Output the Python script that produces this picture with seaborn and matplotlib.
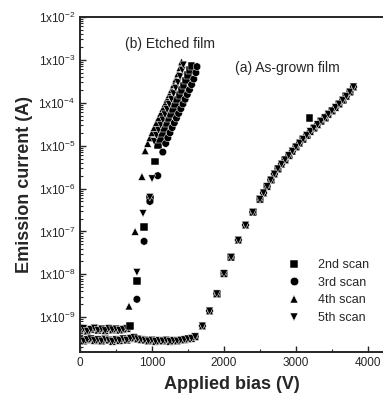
import matplotlib

matplotlib.use("Agg")
import matplotlib.pyplot as plt
import matplotlib.ticker as mticker
import numpy as np
import pandas as pd
import seaborn as sns

# ---- data (bias in V, current as log10 of A) ----
scans = ["2nd scan", "3rd scan", "4th scan", "5th scan"]
decades = [-9, -8, -7, -6, -5, -4, -3, -2]

# (a) as-grown film: the four scans lie on top of each other
grown_bias = [0, 50, 100, 150, 200, 250, 300, 350, 400, 450, 500, 550, 600, 650,
              700, 750, 800, 850, 900, 950, 1000, 1050, 1100, 1150, 1200, 1250,
              1300, 1350, 1400, 1450, 1500, 1550, 1600,
              1700, 1800, 1900, 2000, 2100, 2200, 2300, 2400, 2500,
              2550, 2600, 2650, 2700, 2750, 2800, 2850, 2900, 2950, 3000, 3050,
              3100, 3150, 3200, 3250, 3300, 3350, 3400, 3450, 3500, 3550, 3600,
              3650, 3700, 3750, 3800]
grown_log = [-9.50, -9.55, -9.52, -9.50, -9.54, -9.52, -9.55, -9.51, -9.53, -9.56,
             -9.52, -9.54, -9.50, -9.53, -9.49, -9.47, -9.50, -9.52, -9.53, -9.55,
             -9.53, -9.56, -9.54, -9.55, -9.53, -9.56, -9.54, -9.55, -9.53, -9.52,
             -9.50, -9.49, -9.45,
             -9.20, -8.85, -8.45, -7.98, -7.60, -7.20, -6.85, -6.55, -6.25,
             -6.10, -5.95, -5.80, -5.66, -5.54, -5.43, -5.33, -5.23, -5.13, -5.03,
             -4.94, -4.85, -4.76, -4.67, -4.59, -4.51, -4.43, -4.35, -4.27, -4.19,
             -4.11, -4.03, -3.94, -3.85, -3.75, -3.63]
grown_outlier_bias = [3190]          # lone 2nd-scan point above the curve
grown_outlier_log = [-4.35]

# (b) etched film: common low-bias floor, then one turn-on branch per scan
etched_floor_bias = [0, 50, 100, 150, 200, 250, 300, 350, 400, 450, 500, 550, 600, 650]
etched_floor_log = [-9.30, -9.26, -9.32, -9.28, -9.25, -9.30, -9.27, -9.31, -9.26,
                    -9.29, -9.27, -9.30, -9.28, -9.26]

etched2_bias = [690, 790, 890, 970, 1040, 1080, 1110, 1140, 1170, 1200, 1230, 1260,
                1290, 1320, 1350, 1380, 1410, 1440, 1470, 1500, 1530, 1550]
etched2_log = [-9.20, -8.16, -6.90, -6.25, -5.37, -5.00, -4.85, -4.72, -4.60, -4.48,
               -4.37, -4.26, -4.15, -4.04, -3.93, -3.82, -3.71, -3.60, -3.48, -3.36,
               -3.24, -3.15]

etched3_bias = [790, 890, 970, 1080, 1150, 1190, 1220, 1250, 1280, 1310, 1340, 1370,
                1400, 1430, 1460, 1490, 1520, 1550, 1580, 1610, 1625]
etched3_log = [-8.58, -7.23, -6.30, -5.70, -5.15, -4.95, -4.82, -4.70, -4.58, -4.47,
               -4.36, -4.25, -4.14, -4.03, -3.92, -3.81, -3.70, -3.58, -3.45, -3.30,
               -3.16]

etched4_bias = [680, 765, 860, 905, 940, 970, 1000, 1030, 1060, 1090, 1120, 1150,
                1180, 1210, 1240, 1270, 1300, 1330, 1360, 1390, 1410]
etched4_log = [-8.74, -7.00, -5.72, -5.12, -4.95, -4.82, -4.70, -4.58, -4.47, -4.36,
               -4.25, -4.14, -4.03, -3.92, -3.81, -3.70, -3.58, -3.45, -3.32, -3.18,
               -3.05]

etched5_bias = [790, 875, 970, 1000, 1030, 1060, 1090, 1120, 1150, 1180, 1210, 1240,
                1270, 1300, 1330, 1360, 1390, 1420, 1435]
etched5_log = [-7.95, -6.58, -6.20, -5.77, -4.90, -4.76, -4.64, -4.52, -4.40, -4.28,
               -4.16, -4.04, -3.92, -3.79, -3.66, -3.53, -3.39, -3.24, -3.12]


def main():
    sns.set_style("ticks")
    plt.rcParams["font.family"] = ["Liberation Sans", "DejaVu Sans"]
    plt.rcParams["mathtext.default"] = "regular"

    rows = []
    for scan in scans:
        for v, lg in zip(grown_bias, grown_log):
            rows.append((scan, v, lg))
        for v, lg in zip(etched_floor_bias, etched_floor_log):
            rows.append((scan, v, lg))
    for v, lg in zip(grown_outlier_bias, grown_outlier_log):
        rows.append(("2nd scan", v, lg))
    branches = {
        "2nd scan": (etched2_bias, etched2_log),
        "3rd scan": (etched3_bias, etched3_log),
        "4th scan": (etched4_bias, etched4_log),
        "5th scan": (etched5_bias, etched5_log),
    }
    for scan, (bias, logs) in branches.items():
        for v, lg in zip(bias, logs):
            rows.append((scan, v, lg))
    df = pd.DataFrame(rows, columns=["scan", "bias", "log_current"])
    df["current"] = 10.0 ** df["log_current"]

    markers = {"2nd scan": "s", "3rd scan": "o", "4th scan": "^", "5th scan": "v"}

    fig = plt.figure(figsize=(3.83, 4.01), dpi=100)
    ax = fig.add_axes([0.209, 0.122, 0.791, 0.836])
    sns.scatterplot(
        data=df,
        x="bias",
        y="current",
        style="scan",
        style_order=scans,
        markers=markers,
        color="black",
        edgecolor="white",
        linewidth=0.35,
        s=30,
        ax=ax,
    )

    ax.set_yscale("log")
    ax.set_ylim(1.55e-10, 1e-2)
    ax.set_xlim(0, 4210)
    major = [10.0 ** d for d in decades]
    ax.yaxis.set_major_locator(mticker.FixedLocator(major))
    ax.yaxis.set_minor_locator(mticker.LogLocator(base=10, subs=np.arange(2, 10), numticks=20))
    ax.yaxis.set_minor_formatter(mticker.NullFormatter())
    ax.yaxis.set_major_formatter(
        mticker.FixedFormatter(["1x10$^{%d}$" % d for d in decades])
    )
    ax.xaxis.set_major_locator(mticker.MultipleLocator(1000))
    ax.xaxis.set_minor_locator(mticker.MultipleLocator(500))

    ax.tick_params(which="both", direction="in", top=False, right=False)
    ax.tick_params(which="major", length=4, width=1.0, labelsize=8.5)
    ax.tick_params(which="minor", length=2, width=0.8)
    for side in ["left", "bottom", "top"]:
        ax.spines[side].set_linewidth(1.4)
    ax.spines["right"].set_visible(False)

    ax.set_xlabel("Applied bias (V)", fontsize=13, fontweight="bold", labelpad=5)
    ax.set_ylabel("Emission current (A)", fontsize=13, fontweight="bold", labelpad=4)

    ax.text(625, 10 ** -2.63, "(b) Etched film", fontsize=10, va="center")
    ax.text(2150, 10 ** -3.2, "(a) As-grown film", fontsize=10, va="center")

    handles, labels = ax.get_legend_handles_labels()
    leg = ax.legend(
        handles,
        labels,
        loc="lower right",
        bbox_to_anchor=(0.99, 0.05),
        frameon=False,
        fontsize=9,
        handletextpad=0.9,
        labelspacing=0.45,
        markerscale=1.1,
    )
    for h in leg.legend_handles:
        h.set_color("black")

    fig.savefig("out.png", dpi=100)
    plt.close(fig)


if __name__ == "__main__":
    main()
